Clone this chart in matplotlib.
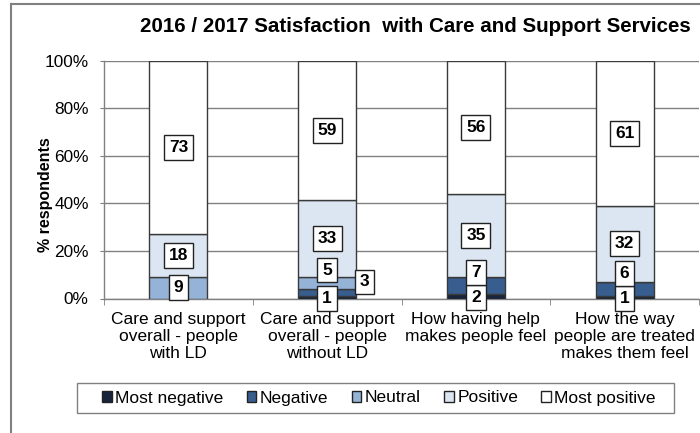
import matplotlib
matplotlib.use("Agg")
import matplotlib.pyplot as plt
from matplotlib.patches import Patch, Rectangle
from matplotlib.lines import Line2D
import numpy as np

plt.rcParams['font.family'] = ['Liberation Sans', 'DejaVu Sans']

categories = ["Care and support\noverall - people\nwith LD",
              "Care and support\noverall - people\nwithout LD",
              "How having help\nmakes people feel",
              "How the way\npeople are treated\nmakes them feel"]
series_names = ["Most negative", "Negative", "Neutral", "Positive", "Most positive"]
most_negative = [0, 1, 2, 1]
negative = [0, 3, 7, 6]
neutral = [9, 5, 0, 0]
positive = [18, 33, 35, 32]
most_positive = [73, 59, 56, 61]
y_ticks = [0, 20, 40, 60, 80, 100]
y_tick_labels = ["0%", "20%", "40%", "60%", "80%", "100%"]
title = "2016 / 2017 Satisfaction  with Care and Support Services"

colors = ["#17243C", "#375E8F", "#95B3D7", "#DCE6F2", "#FFFFFF"]
edge = "#3A3A3A"

values = np.array([most_negative, negative, neutral, positive, most_positive], dtype=float)
totals = values.sum(axis=0)
pct = values / totals * 100.0

fig = plt.figure(figsize=(7.0, 4.33), dpi=100)
ax = fig.add_axes([104 / 700, 1 - 298.5 / 433, 595 / 700, (298.5 - 60.7) / 433])

x = np.arange(len(categories))
width = 0.39
bottom = np.zeros(len(categories))
for s in range(len(series_names)):
    ax.bar(x, pct[s], width, bottom=bottom, color=colors[s], edgecolor=edge,
           linewidth=1.0, zorder=3, label=series_names[s])
    bottom += pct[s]

# label adjustments (dx in category units, dy in percentage points) for small segments
adjust = {(0, 1): (0, -0.5), (1, 1): (0.25, 4.5), (2, 1): (0, 5.5),
          (0, 2): (0, -0.5), (1, 2): (0, 5.5),
          (0, 3): (0, -0.5), (1, 3): (0, 6.5)}
cum = np.vstack([np.zeros(len(categories)), np.cumsum(pct, axis=0)])
for s in range(len(series_names)):
    for i in range(len(categories)):
        v = values[s, i]
        if v <= 0:
            continue
        yc = (cum[s, i] + cum[s + 1, i]) / 2
        dx, dy = adjust.get((s, i), (0, 0))
        ax.text(i + dx, yc + dy, f"{int(v)}", ha="center", va="center",
                fontsize=12.5, fontweight="bold", zorder=6,
                bbox=dict(boxstyle="square,pad=0.28", facecolor="white",
                          edgecolor="#222222", linewidth=1.0))

ax.set_xlim(-0.5, len(categories) - 0.5)
ax.set_ylim(0, 100)
ax.set_yticks(y_ticks)
ax.set_yticklabels(y_tick_labels, fontsize=12.4)
ax.set_xticks(x)
ax.set_xticklabels(categories, fontsize=12.5, linespacing=1.17)
ax.tick_params(axis="x", length=0, pad=10)
ax.set_xticks(np.arange(-0.5, len(categories), 1.0), minor=True)
ax.tick_params(axis="x", which="minor", length=4, color="#808080", direction="out")
ax.tick_params(axis="y", length=3, color="#808080", direction="out", pad=8)
ax.yaxis.grid(True, color="#808080", linewidth=1.0, zorder=0)
ax.set_axisbelow(True)
for side in ["top", "right"]:
    ax.spines[side].set_visible(False)
for side in ["left", "bottom"]:
    ax.spines[side].set_color("#808080")
    ax.spines[side].set_linewidth(1.0)
ax.set_ylabel("% respondents", fontsize=11.5, fontweight="bold")
ax.yaxis.set_label_coords((53 - 104) / 595, (298.5 - 195) / 237.8)

fig.text(415 / 700, 1 - 27 / 433, title, ha="center", va="center",
         fontsize=14.8, fontweight="bold")

handles = [Patch(facecolor=colors[s], edgecolor="#222222", linewidth=1.0)
           for s in range(len(series_names))]
leg = fig.legend(handles, series_names, loc="center left", ncol=5,
                 bbox_to_anchor=(102 / 700, 1 - 398 / 433),
                 fontsize=12.5, frameon=False, borderpad=0, borderaxespad=0,
                 handlelength=0.55, handleheight=0.55, handletextpad=0.2,
                 columnspacing=1.35)
fig.add_artist(Rectangle((77 / 700, 1 - 413 / 433), 597 / 700, 30 / 433,
                         transform=fig.transFigure, facecolor="none",
                         edgecolor="#808080", linewidth=1.0))

# outer chart border (cropped at right and bottom)
fig.add_artist(Line2D([10.5 / 700, 10.5 / 700], [0, 1 - 3.5 / 433],
                      transform=fig.transFigure, color="#808080", linewidth=1.5))
fig.add_artist(Line2D([10.5 / 700, 1.0], [1 - 3.5 / 433, 1 - 3.5 / 433],
                      transform=fig.transFigure, color="#808080", linewidth=1.5))

fig.savefig("out.png", dpi=100)
